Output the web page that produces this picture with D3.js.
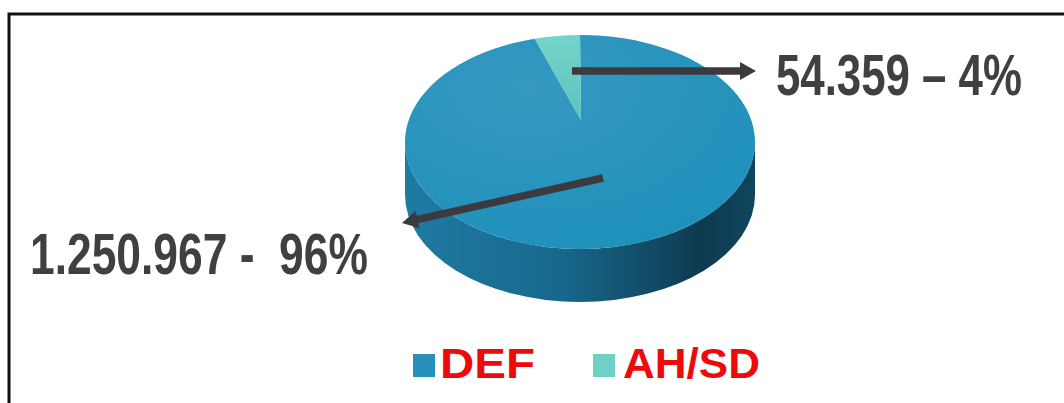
<!DOCTYPE html>
<html>
<head>
<meta charset="utf-8">
<script src="https://cdn.jsdelivr.net/npm/d3@7"></script>
<style>
  body { margin: 0; background: #fff; }
  svg { display: block; }
</style>
</head>
<body>
<svg id="drawing_region"></svg>
<script>
// data
const categories = ["DEF", "AH/SD"];
const values = [1250967, 54359];
const valueLabels = ["1.250.967", "54.359"];
const pctLabels = ["96%", "4%"];
const sliceColors = ["#2a93bb", "#6fd0c6"];

const width = 1064, height = 403;

const svg = d3.select("#drawing_region")
    .attr("width", width)
    .attr("height", height);

// frame (only top and left edges show in the crop)
svg.append("path")
    .attr("d", `M9,${height + 5} L9,14 L${width + 5},14`)
    .attr("fill", "none")
    .attr("stroke", "#111")
    .attr("stroke-width", 3);

const defs = svg.append("defs");

const sideGrad = defs.append("linearGradient")
    .attr("id", "side")
    .attr("x1", "0%").attr("x2", "100%").attr("y1", "0%").attr("y2", "0%");
sideGrad.append("stop").attr("offset", "0%").attr("stop-color", "#1f7ba3");
sideGrad.append("stop").attr("offset", "45%").attr("stop-color", "#18678c");
sideGrad.append("stop").attr("offset", "85%").attr("stop-color", "#0e3a50");
sideGrad.append("stop").attr("offset", "100%").attr("stop-color", "#10455f");

const topGrad = defs.append("radialGradient")
    .attr("id", "topface")
    .attr("cx", "35%").attr("cy", "25%").attr("r", "80%");
topGrad.append("stop").attr("offset", "0%").attr("stop-color", "#3698c1");
topGrad.append("stop").attr("offset", "100%").attr("stop-color", "#1e91bb");

const lightGrad = defs.append("linearGradient")
    .attr("id", "light")
    .attr("x1", "0%").attr("x2", "0%").attr("y1", "0%").attr("y2", "100%");
lightGrad.append("stop").attr("offset", "0%").attr("stop-color", "#74d4ca");
lightGrad.append("stop").attr("offset", "100%").attr("stop-color", "#5cc3bd");

const legGrad = defs.append("linearGradient")
    .attr("id", "legdef")
    .attr("x1", "0%").attr("x2", "0%").attr("y1", "0%").attr("y2", "100%");
legGrad.append("stop").attr("offset", "0%").attr("stop-color", "#2e8db6");
legGrad.append("stop").attr("offset", "100%").attr("stop-color", "#1f93bd");

const fills = ["url(#topface)", "url(#light)"];

// 3D pie geometry
const cx = 580, cy = 142, rx = 175, ry = 107, depth = 53;
const apex = [581, 120];

const pie = d3.pie().sort(null).value(d => d);
const arcs = pie(values);

const pt = a => [cx + rx * Math.sin(a), cy - ry * Math.cos(a)];

// side wall (front half)
svg.append("path")
    .attr("d", `M${cx + rx},${cy} A${rx},${ry} 0 0 1 ${cx - rx},${cy}` +
               ` L${cx - rx},${cy + depth} A${rx},${ry} 0 0 0 ${cx + rx},${cy + depth} Z`)
    .attr("fill", "url(#side)");

// top face slices
svg.selectAll("path.slice")
    .data(arcs)
    .join("path")
    .attr("class", "slice")
    .attr("d", d => {
        const s = pt(d.startAngle), e = pt(d.endAngle);
        const large = (d.endAngle - d.startAngle) > Math.PI ? 1 : 0;
        return `M${apex[0]},${apex[1]} L${s[0]},${s[1]} A${rx},${ry} 0 ${large} 1 ${e[0]},${e[1]} Z`;
    })
    .attr("fill", (d, i) => fills[i]);

// arrows
const arrowColor = "#3b3b3f";
const arrows = [
    { from: [603, 178], to: [402, 223] },
    { from: [572, 71], to: [756, 71] }
];

arrows.forEach(a => {
    const ang = Math.atan2(a.to[1] - a.from[1], a.to[0] - a.from[0]);
    const len = 16, half = 9;
    const bx = a.to[0] - len * Math.cos(ang), by = a.to[1] - len * Math.sin(ang);
    svg.append("line")
        .attr("x1", a.from[0]).attr("y1", a.from[1])
        .attr("x2", bx + 2 * Math.cos(ang)).attr("y2", by + 2 * Math.sin(ang))
        .attr("stroke", arrowColor)
        .attr("stroke-width", 7.5);
    const px = -Math.sin(ang), py = Math.cos(ang);
    svg.append("path")
        .attr("d", `M${a.to[0]},${a.to[1]} L${bx + px * half},${by + py * half} L${bx - px * half},${by - py * half} Z`)
        .attr("fill", arrowColor);
});

// condensed text: draw at natural width, then squeeze horizontally to the target width
function squeeze(sel) {
    sel.each(function(d) {
        const w = this.getComputedTextLength();
        d3.select(this).attr("transform", `translate(${d.x},${d.y}) scale(${d.len / w},1)`);
    });
}

const labelFont = "'Liberation Sans', Arial, sans-serif";
const labels = [
    { text: `${valueLabels[0]} -  ${pctLabels[0]}`, x: 30, y: 274, len: 338 },
    { text: `${valueLabels[1]} \u2013 ${pctLabels[1]}`, x: 776, y: 95, len: 246 }
];

svg.selectAll("text.val")
    .data(labels)
    .join("text")
    .attr("class", "val")
    .style("white-space", "pre")
    .attr("font-family", labelFont)
    .attr("font-weight", 700)
    .attr("font-size", 58)
    .attr("fill", "#404040")
    .text(d => d.text)
    .call(squeeze);

// legend
const legend = [
    { sx: 413, x: 440, y: 378, len: 95, fill: "url(#legdef)" },
    { sx: 593, x: 623, y: 378, len: 137, fill: sliceColors[1] }
];

const lg = svg.selectAll("g.leg")
    .data(categories)
    .join("g")
    .attr("class", "leg");

lg.append("rect")
    .attr("x", (d, i) => legend[i].sx)
    .attr("y", 354)
    .attr("width", 22)
    .attr("height", 23)
    .attr("fill", (d, i) => legend[i].fill);

lg.append("text")
    .datum((d, i) => Object.assign({ name: d }, legend[i]))
    .attr("font-family", labelFont)
    .attr("font-weight", 700)
    .attr("font-size", 43)
    .attr("fill", "#ee0a0a")
    .text(d => d.name)
    .call(squeeze);
</script>
</body>
</html>
